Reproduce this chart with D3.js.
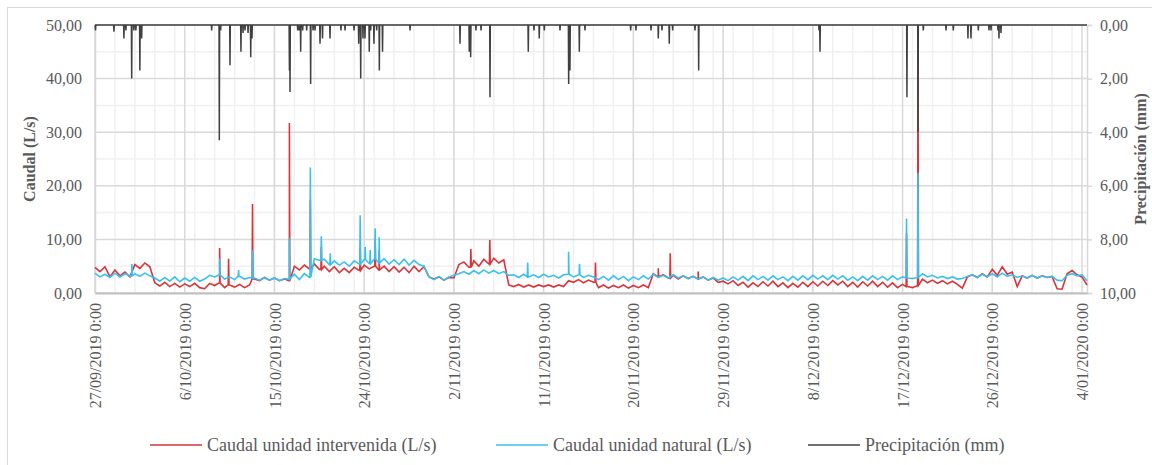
<!DOCTYPE html>
<html>
<head>
<meta charset="utf-8">
<script src="https://cdn.jsdelivr.net/npm/d3@7"></script>
<style>
  body { margin: 0; background: #fff; }
  svg text { font-family: "Liberation Serif", "Times New Roman", serif; fill: #595959; }
</style>
</head>
<body>
<div class="chart"></div>
<script>
// series sampled every half day starting 27/09/2019 0:00
const step = 0.5;

const intervenida = [
  4.8, 4.0, 4.9, 3.0, 4.3, 3.2, 3.9, 3.0, 5.3, 4.6, 5.6, 4.9, 1.9, 1.3, 2.0, 1.2, 1.8, 1.1, 1.7, 1.2,
  1.8, 1.0, 0.8, 1.8, 1.4, 1.9, 1.0, 1.5, 1.1, 1.6, 1.0, 1.5, 2.6, 2.3, 2.9, 2.4, 2.8, 2.3, 2.6, 2.3,
  5.0, 4.3, 5.2, 4.5, 5.4, 4.4, 5.0, 4.0, 4.9, 3.8, 4.6, 3.8, 4.8, 4.2, 5.2, 4.5, 5.0, 4.3, 5.0, 4.0,
  4.9, 3.9, 4.8, 3.8, 5.0, 4.0, 4.9, 3.0, 2.6, 3.0, 2.4, 2.9, 2.8, 5.3, 5.8, 4.8, 6.0, 5.0, 6.3, 5.4,
  6.5, 5.6, 6.2, 1.5, 1.2, 1.6, 1.1, 1.5, 1.1, 1.5, 1.2, 1.5, 1.1, 1.5, 1.2, 2.3, 2.0, 2.5, 1.9, 2.4,
  2.0, 1.0, 1.5, 0.9, 1.4, 1.0, 1.5, 0.9, 1.4, 1.0, 1.5, 1.0, 3.6, 3.0, 3.4, 2.8, 3.3, 2.6, 3.2, 2.7,
  3.1, 2.6, 3.0, 2.4, 2.8, 2.0, 2.2, 1.7, 2.3, 1.4, 2.0, 1.1, 1.9, 1.2, 2.1, 1.3, 2.2, 1.2, 1.9, 1.0,
  1.8, 1.1, 2.0, 1.2, 2.1, 1.3, 2.2, 1.4, 2.3, 1.5, 2.2, 1.2, 2.0, 1.1, 2.1, 1.3, 2.2, 1.2, 2.0, 1.1,
  1.9, 1.0, 1.6, 1.2, 1.0, 1.4, 2.6, 1.9, 2.4, 1.8, 2.3, 1.7, 2.2, 1.6, 0.9, 3.0, 3.4, 2.9, 3.6, 3.0,
  4.4, 3.3, 4.9, 3.5, 3.9, 1.2, 3.2, 2.8, 3.3, 2.8, 3.2, 2.9, 3.1, 0.8, 0.7, 3.6, 4.2, 3.4, 3.0, 1.5
];

const natural = [
  3.7, 3.0, 3.5, 2.9, 3.7, 3.0, 3.6, 3.2, 3.6, 3.1, 3.7, 3.2, 2.8, 2.2, 2.9, 2.2, 3.0, 2.1, 2.8, 2.2,
  2.9, 2.2, 2.6, 3.3, 3.0, 3.4, 2.6, 3.0, 2.5, 3.1, 2.6, 2.9, 2.8, 2.4, 2.9, 2.4, 2.8, 2.3, 2.7, 2.6,
  3.5, 2.5, 3.6, 2.9, 6.4, 6.1, 6.3, 5.3, 6.0, 5.2, 5.8, 5.0, 6.0, 5.4, 6.2, 5.5, 6.3, 5.6, 6.4, 5.4,
  6.2, 5.3, 6.3, 5.2, 6.1, 5.3, 5.0, 3.0, 2.5, 3.1, 2.4, 3.0, 3.3, 3.6, 4.0, 3.5, 4.2, 3.6, 4.3, 3.7,
  4.2, 3.6, 4.0, 3.3, 3.4, 2.9, 3.5, 3.0, 3.4, 2.9, 3.5, 3.0, 3.3, 2.8, 3.4, 3.5, 3.0, 3.4, 2.9, 3.3,
  3.0, 2.5, 3.1, 2.4, 3.2, 2.5, 3.1, 2.3, 3.0, 2.5, 3.2, 2.6, 3.5, 2.9, 3.3, 2.8, 3.4, 2.8, 3.2, 2.7,
  3.1, 2.6, 3.0, 2.4, 2.9, 2.4, 2.8, 2.3, 3.0, 2.4, 3.1, 2.3, 3.2, 2.5, 3.1, 2.4, 3.2, 2.5, 3.0, 2.3,
  3.1, 2.4, 3.2, 2.5, 3.3, 2.6, 3.2, 2.5, 3.3, 2.6, 3.2, 2.4, 3.0, 2.3, 3.1, 2.4, 3.2, 2.5, 3.1, 2.4,
  3.2, 2.5, 3.0, 2.8, 2.7, 2.9, 3.6, 3.0, 3.3, 2.8, 3.1, 2.7, 3.0, 2.6, 2.7, 3.1, 3.4, 2.9, 3.5, 3.0,
  3.6, 3.0, 3.7, 3.1, 3.4, 2.9, 3.2, 2.8, 3.3, 2.8, 3.2, 2.9, 3.1, 2.4, 2.3, 3.3, 3.6, 3.2, 3.4, 2.3
];

// short peaks: [day since start, L/s]
const intervenidaPeaks = [
  [12.5, 8.4], [13.4, 6.4], [15.8, 16.6], [19.5, 31.7], [21.6, 17.4], [22.7, 8.6],
  [26.6, 8.5], [28.1, 10.2], [28.5, 8.0], [37.7, 8.2], [39.6, 9.9], [50.2, 5.7],
  [56.5, 4.6], [57.7, 7.4], [60.5, 4.0], [81.4, 11.1], [82.55, 49.0]
];
const naturalPeaks = [
  [3.7, 5.4], [12.5, 6.4], [14.4, 4.3], [15.8, 8.0], [19.5, 10.2], [21.6, 23.4],
  [22.7, 10.6], [23.6, 7.4], [26.6, 14.5], [27.1, 8.6], [27.6, 8.0], [28.1, 12.1],
  [28.5, 10.4], [43.4, 5.7], [47.5, 7.7], [48.6, 5.4], [81.4, 13.9], [82.55, 22.4]
];

// rain events: [day since start, mm]
const precipitacion = [
  [0.05, 0.2], [1.9, 0.25], [2.9, 0.5], [3.1, 0.2], [3.68, 2.0], [3.9, 0.2], [4.1, 0.2], [4.5, 1.7], [4.68, 0.5],
  [11.7, 0.2], [12.47, 4.3], [12.6, 0.2], [13.54, 1.5], [14.64, 1.0], [14.85, 0.3], [15.05, 0.2], [15.35, 0.3],
  [15.62, 1.2], [15.75, 0.5], [19.5, 1.7], [19.56, 2.5], [20.33, 0.2], [20.46, 0.2], [20.63, 1.0], [20.83, 0.2],
  [21.23, 0.2], [21.63, 2.2], [21.87, 0.2], [22.07, 0.2], [22.57, 0.7], [22.82, 0.5], [23.57, 0.5], [24.67, 0.2],
  [25.08, 0.2], [25.98, 0.2], [26.45, 0.7], [26.65, 2.0], [26.88, 0.5], [27.08, 0.5], [27.51, 1.0], [27.65, 0.2],
  [27.98, 0.7], [28.25, 0.2], [28.52, 1.7], [28.84, 1.0], [31.6, 0.2], [36.61, 0.7], [37.54, 1.0], [37.68, 1.2],
  [38.21, 0.2], [38.72, 0.2], [39.62, 2.7], [43.46, 1.0], [44.03, 0.2], [44.56, 0.5], [45.07, 0.2], [46.64, 0.2],
  [47.51, 2.2], [47.64, 1.7], [48.58, 1.0], [49.15, 0.2], [53.73, 0.2], [54.26, 0.2], [55.77, 0.2], [56.5, 0.5],
  [56.87, 0.2], [57.6, 0.7], [57.94, 0.2], [60.18, 0.2], [60.55, 1.7], [72.62, 0.2], [72.72, 1.0], [81.44, 2.7],
  [82.55, 4.0], [83.08, 0.2], [85.36, 0.2], [86.09, 0.2], [87.56, 0.5], [87.86, 0.5], [88.6, 0.2], [89.67, 0.2],
  [89.87, 0.2], [90.57, 0.2], [90.67, 0.5], [90.87, 0.3]
];

const dateTicks = ["2019-09-27", "2019-10-06", "2019-10-15", "2019-10-24", "2019-11-02", "2019-11-11",
  "2019-11-20", "2019-11-29", "2019-12-08", "2019-12-17", "2019-12-26", "2020-01-04"];
const caudalTicks = [0, 10, 20, 30, 40, 50];
const precTicks = [0, 2, 4, 6, 8, 10];

const legendNames = ["Caudal unidad intervenida (L/s)", "Caudal unidad natural (L/s)", "Precipitación (mm)"];
const colors = ["#d7353b", "#3ac0ee", "#404040"];

const FONT = '"Liberation Serif", "Times New Roman", serif';
const DAY = 864e5;
const start = Date.UTC(2019, 8, 27);
const toDate = d => new Date(start + d * DAY);

function buildSeries(base, peaks) {
  let pts = base.map((v, i) => [i * step, v]);
  peaks.forEach(([d, v]) => {
    let near = base[Math.round(d / step)];
    pts.push([d - 0.04, near], [d, v], [d + 0.04, near]);
  });
  return pts.sort((a, b) => a[0] - b[0]);
}

function buildRain(events, end) {
  let pts = [[0, 0]];
  events.forEach(([d, v]) => {
    pts.push([Math.max(0, d - 0.03), 0], [d, v], [d + 0.03, 0]);
  });
  pts.push([end, 0]);
  return pts.sort((a, b) => a[0] - b[0]);
}

const locale = d3.formatLocale({decimal: ",", thousands: ".", grouping: [3], currency: ["", ""]});
const fmt = locale.format(".2f");
const dateFmt = d3.utcFormat("%-d/%m/%Y %-H:%M");

// dimensions
let W = 1152, H = 465;
let margin = {top: 25, right: 65, bottom: 172, left: 95},
    width = W - margin.left - margin.right,
    height = H - margin.top - margin.bottom;

let svg = d3.select(".chart")
    .append("svg")
    .attr("width", W)
    .attr("height", H);

// outer frame
svg.append("rect")
    .attr("x", 7.5).attr("y", 7.5)
    .attr("width", W - 1).attr("height", H + 10)
    .attr("fill", "none")
    .attr("stroke", "#d9d9d9");

let g = svg.append("g")
    .attr("transform", "translate(" + margin.left + "," + margin.top + ")");

let endDay = intervenida.length * step - step;
let x = d3.scaleUtc()
    .domain([toDate(0), toDate(endDay)])
    .range([0, width]);
let y = d3.scaleLinear().domain([0, 50]).range([height, 0]);
let yP = d3.scaleLinear().domain([0, 10]).range([0, height]);

// minor grid
let minorX = d3.range(0, endDay + 0.01, 2).map(toDate);
g.append("g").selectAll("line").data(minorX).enter().append("line")
    .attr("x1", d => x(d)).attr("x2", d => x(d))
    .attr("y1", 0).attr("y2", height)
    .attr("stroke", "#f0f0f0").attr("stroke-width", 1.5);
g.append("g").selectAll("line").data([5, 15, 25, 35, 45]).enter().append("line")
    .attr("x1", 0).attr("x2", width)
    .attr("y1", d => y(d)).attr("y2", d => y(d))
    .attr("stroke", "#f0f0f0").attr("stroke-width", 1.5);

// major grid
let tickDates = dateTicks.map(s => new Date(s + "T00:00:00Z"));
g.append("g").selectAll("line").data(tickDates).enter().append("line")
    .attr("x1", d => x(d)).attr("x2", d => x(d))
    .attr("y1", 0).attr("y2", height)
    .attr("stroke", "#d9d9d9").attr("stroke-width", 1.5);
g.append("g").selectAll("line").data(caudalTicks).enter().append("line")
    .attr("x1", 0).attr("x2", width)
    .attr("y1", d => y(d)).attr("y2", d => y(d))
    .attr("stroke", "#d9d9d9").attr("stroke-width", 1.5);

// axes
let axisL = g.append("g")
    .call(d3.axisLeft(y).tickValues(caudalTicks).tickFormat(fmt).tickSize(0).tickPadding(13));
let axisR = g.append("g")
    .attr("transform", "translate(" + width + ",0)")
    .call(d3.axisRight(yP).tickValues(precTicks).tickFormat(fmt).tickSize(5).tickPadding(8));
let axisB = g.append("g")
    .attr("transform", "translate(0," + height + ")")
    .call(d3.axisBottom(x).tickValues(tickDates).tickFormat(dateFmt).tickSize(0));
axisB.selectAll("text")
    .attr("transform", "translate(0,10)rotate(-90)")
    .attr("x", 0).attr("y", 0).attr("dy", "0.35em")
    .style("text-anchor", "end");

[axisL, axisR, axisB].forEach(a => {
    a.attr("font-family", FONT);
    a.selectAll("text").style("font-family", FONT).style("font-size", "16px").attr("fill", "#595959");
    a.selectAll("line").attr("stroke", "#d9d9d9").attr("stroke-width", 1.5);
    a.select(".domain").attr("stroke", "#d9d9d9").attr("stroke-width", 1.5);
});
axisB.select(".domain").attr("stroke", "#bfbfbf").attr("stroke-width", 2);

// lines
let line = d3.line()
    .x(d => x(toDate(d[0])))
    .y(d => y(d[1]));
let rainLine = d3.line()
    .x(d => x(toDate(d[0])))
    .y(d => yP(d[1]));

g.append("path")
    .datum(buildSeries(intervenida, intervenidaPeaks))
    .attr("d", line)
    .attr("fill", "none").attr("stroke", colors[0]).attr("stroke-width", 1.6);
g.append("path")
    .datum(buildSeries(natural, naturalPeaks))
    .attr("d", line)
    .attr("fill", "none").attr("stroke", colors[1]).attr("stroke-width", 1.6);
g.append("path")
    .datum(buildRain(precipitacion, endDay))
    .attr("d", rainLine)
    .attr("fill", "none").attr("stroke", colors[2]).attr("stroke-width", 1.5);

// axis titles
svg.append("text")
    .attr("transform", "translate(29," + (margin.top + height / 2) + ")rotate(-90)")
    .attr("dy", "0.35em")
    .style("text-anchor", "middle")
    .style("font-family", FONT).style("font-size", "16px").style("font-weight", "bold")
    .text("Caudal (L/s)");
svg.append("text")
    .attr("transform", "translate(1140," + (margin.top + height / 2) + ")rotate(-90)")
    .attr("dy", "0.35em")
    .style("text-anchor", "middle")
    .style("font-family", FONT).style("font-size", "16px").style("font-weight", "bold")
    .text("Precipitación (mm)");

// legend
let legendX = [150, 496, 808];
let legend = svg.append("g").selectAll("g").data(legendNames).enter().append("g")
    .attr("transform", (d, i) => "translate(" + legendX[i] + ",445)");
legend.append("line")
    .attr("x1", 0).attr("x2", 52)
    .attr("stroke", (d, i) => colors[i]).attr("stroke-width", 1.5);
legend.append("text")
    .attr("x", 57).attr("dy", "0.35em")
    .style("font-family", FONT).style("font-size", "18px")
    .text(d => d);
</script>
</body>
</html>
